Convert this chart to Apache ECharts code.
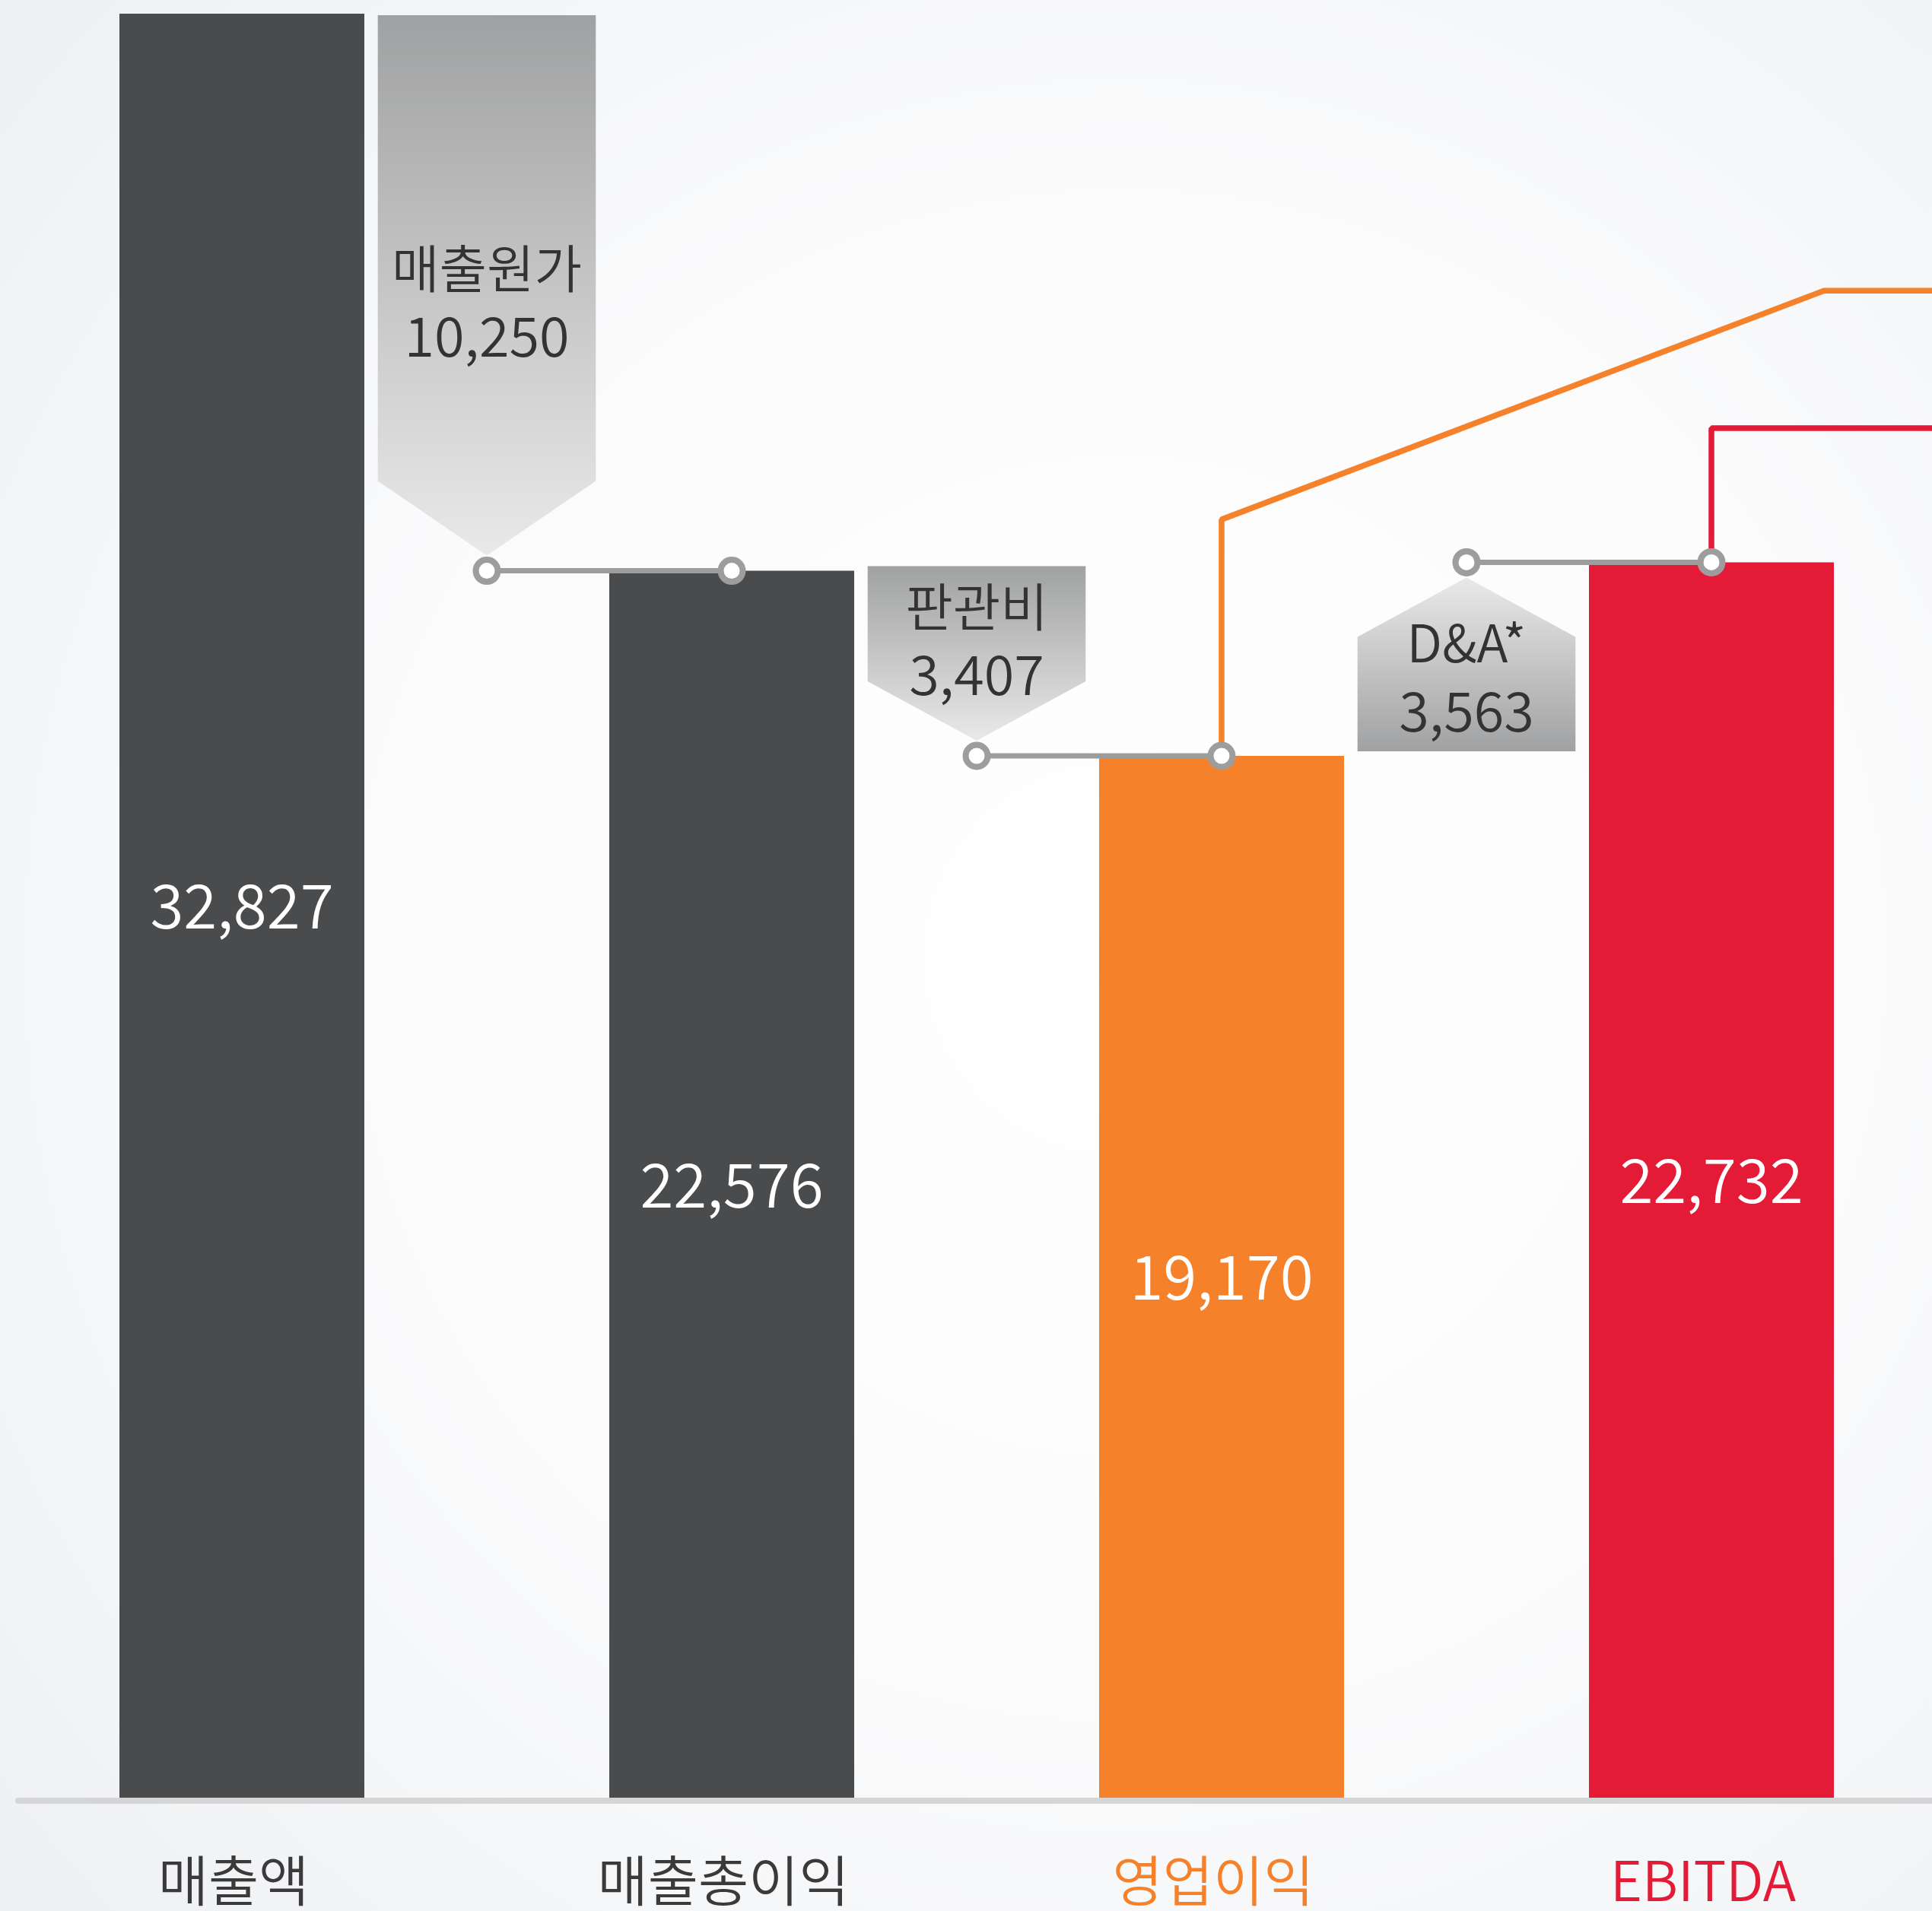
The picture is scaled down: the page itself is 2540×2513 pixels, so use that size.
<!DOCTYPE html>
<html>
<head>
<meta charset="utf-8">
<script src="https://cdn.jsdelivr.net/npm/echarts@6/dist/echarts.min.js"></script>
<style>
html,body{margin:0;padding:0;background:#fff;}
#chart{width:2540px;height:2513px;}
</style>
</head>
<body>
<div id="chart"></div>
<script>
// ---- data ----
const stepNames = ['매출액', '매출원가', '매출총이익', '판관비', '영업이익', 'D&A*', 'EBITDA'];
const totalValues = [32827, null, 22576, null, 19170, null, 22732];
const changeValues = [null, 10250, null, 3407, null, 3563, null];
// decorative connector paths leading off to the right (x = step index, y = value)
const opLinkPath = [[4, 19170], [4, 23520], [6.46, 27730], [7.5, 27730]];
const ebitdaLinkPath = [[6, 22732], [6, 25200], [7.5, 25200]];

// ---- styles ----
const FONT = "'Noto Sans CJK KR', 'Noto Sans', sans-serif";
const C = { dark: '#4a4b4d', orange: '#f5822a', red: '#e31b37', text: '#333333', gray: '#9d9d9d' };
const calloutTextNudge = [23, -20, 13]; // px nudges of callout text from shape centre
function barColor(i) {
  if (stepNames[i] === '영업이익') return C.orange;
  if (stepNames[i] === 'EBITDA') return C.red;
  return C.dark;
}
function labelColor(i) {
  if (stepNames[i] === '영업이익') return C.orange;
  if (stepNames[i] === 'EBITDA') return C.red;
  return '#3a3a3a';
}
const fmt = v => v.toLocaleString('en-US');

const chart = echarts.init(document.getElementById('chart'), null, { renderer: 'canvas' });

const calloutData = [];
changeValues.forEach((v, i) => {
  if (v != null) calloutData.push([i, totalValues[i - 1], totalValues[i + 1], i]);
});

// one spare empty category on the right so the plot runs past the canvas edge
const axisCats = stepNames.concat(['']);

const series = [];
series.push({
  type: 'bar',
  xAxisIndex: 1, yAxisIndex: 1,
  barWidth: '100%',
  data: totalValues.map((v, i) => v == null ? '-' : { value: v, itemStyle: { color: barColor(i) } }),
  label: {
    show: true, position: 'inside', color: '#ffffff',
    fontFamily: FONT, fontSize: 80, fontWeight: 350,
    formatter: p => fmt(p.value)
  },
  silent: true, z: 2
});

series.push({
  type: 'custom',
  xAxisIndex: 2, yAxisIndex: 1,
  encode: { x: 0, y: [1, 2] },
  data: calloutData,
  silent: true, z: 3,
  renderItem: function (params, api) {
    const x = api.value(0), s = api.value(1), e = api.value(2), idx = api.value(3);
    const pS = api.coord([x, s]);
    const pE = api.coord([x, e]);
    const w = api.size([1, 0])[0] * 0.89;
    const half = w / 2;
    const cx = pS[0];
    const dir = pE[1] > pS[1] ? 1 : -1;
    const gap = 20;
    const arrowH = params.dataIndex === 0 ? 98 : 78;
    const sY = params.dataIndex === 0 ? pS[1] + 2 : pS[1] - 6;
    const tipY = pE[1] - dir * gap;
    const shY = tipY - dir * arrowH;
    const grad = new echarts.graphic.LinearGradient(0, dir > 0 ? 0 : 1, 0, dir > 0 ? 1 : 0, [
      { offset: 0, color: '#a0a1a2' },
      { offset: 1, color: '#e9e9e9' }
    ]);
    const cy = (pS[1] + tipY) / 2 + (calloutTextNudge[params.dataIndex] || 0);
    return {
      type: 'group',
      children: [
        {
          type: 'polygon',
          shape: { points: [[cx - half, sY], [cx + half, sY], [cx + half, shY], [cx, tipY], [cx - half, shY]] },
          style: { fill: grad }
        },
        {
          type: 'text',
          style: {
            x: cx, y: cy,
            text: '{n|' + stepNames[idx] + '}\n{v|' + fmt(changeValues[idx]) + '}',
            align: 'center', verticalAlign: 'middle',
            rich: {
              n: { fontFamily: FONT, fontSize: 68, fontWeight: 350, lineHeight: 89, fill: C.text, color: C.text },
              v: { fontFamily: FONT, fontSize: 72, fontWeight: 350, lineHeight: 89, fill: C.text, color: C.text }
            }
          }
        }
      ]
    };
  }
});

// decorative link lines
series.push({
  type: 'line', xAxisIndex: 2, yAxisIndex: 1, data: opLinkPath,
  symbol: 'none', clip: false, silent: true, z: 3,
  lineStyle: { color: C.orange, width: 7.5 }
});
series.push({
  type: 'line', xAxisIndex: 2, yAxisIndex: 1, data: ebitdaLinkPath,
  symbol: 'none', clip: false, silent: true, z: 3,
  lineStyle: { color: C.red, width: 7.5 }
});

// gray connectors from each change to the next total
changeValues.forEach((v, i) => {
  if (v == null) return;
  const lvl = totalValues[i + 1];
  series.push({
    type: 'line', xAxisIndex: 2, yAxisIndex: 1,
    data: [[i, lvl], [i + 1, lvl]],
    symbol: 'circle', symbolSize: 29, showAllSymbol: true, clip: false, silent: true, z: 5,
    lineStyle: { color: C.gray, width: 7 },
    itemStyle: { color: '#ffffff', borderColor: C.gray, borderWidth: 8 }
  });
});

const option = {
  animation: false,
  backgroundColor: {
    type: 'radial', x: 0.58, y: 0.5, r: 0.78,
    colorStops: [
      { offset: 0, color: '#ffffff' },
      { offset: 0.5, color: '#fbfbfc' },
      { offset: 1, color: '#edf0f3' }
    ]
  },
  grid: [
    { left: 24, right: 0, top: 18, bottom: 145, outerBoundsMode: 'none' },
    { left: 157, right: -193, top: 18, bottom: 149, outerBoundsMode: 'none' }
  ],
  xAxis: [
    {
      gridIndex: 0, type: 'value', min: 0, max: 1,
      axisLine: { show: true, lineStyle: { color: '#d5d5d5', width: 8 } },
      axisTick: { show: false }, axisLabel: { show: false }, splitLine: { show: false }
    },
    {
      gridIndex: 1, type: 'category',
      data: axisCats.map((n, i) => ({ value: n, textStyle: { color: labelColor(i) } })),
      axisLine: { show: false }, axisTick: { show: false }, splitLine: { show: false },
      axisLabel: {
        interval: 0, margin: 73, fontSize: 72, fontWeight: 350, fontFamily: FONT, padding: [0, 22, 0, 0],
        formatter: (val, idx) => totalValues[idx] == null ? '' : val
      }
    },
    { gridIndex: 1, type: 'value', min: -0.5, max: 7.5, show: false }
  ],
  yAxis: [
    { gridIndex: 0, type: 'value', min: 0, max: 1, show: false },
    { gridIndex: 1, type: 'value', min: 0, max: 32827, show: false, splitLine: { show: false } }
  ],
  series: series
};
chart.setOption(option);
</script>
</body>
</html>
